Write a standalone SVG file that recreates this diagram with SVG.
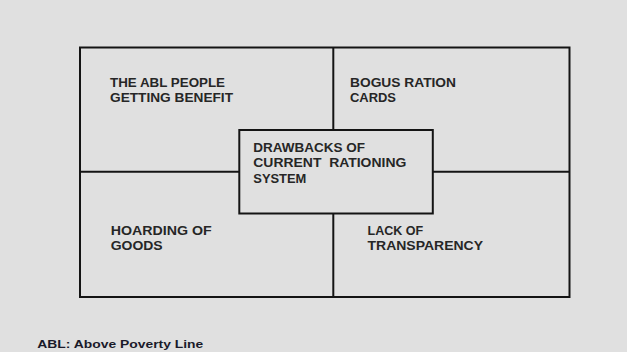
<svg xmlns="http://www.w3.org/2000/svg" width="627" height="352" viewBox="0 0 627 352">
<style>
.box{fill:none;stroke:#141414;stroke-width:2}
.cbox{fill:#e0e0e0;stroke:#141414;stroke-width:2}
.ln{stroke:#141414;stroke-width:2;fill:none}
.t{font-family:"Liberation Sans",Arial,sans-serif;font-weight:bold;font-size:12.5px;fill:#262626}
.f{font-family:"Liberation Sans",Arial,sans-serif;font-weight:bold;font-size:11px;fill:#1a1a2a}
</style>
<rect x="0" y="0" width="627" height="352" fill="#e0e0e0"/>
<g id="frame">
<rect class="box" x="80" y="47.5" width="489.5" height="249.5"/>
</g>
<g id="connectors">
<line class="ln" x1="333.3" y1="47.5" x2="333.3" y2="130"/>
<line class="ln" x1="333.3" y1="213.5" x2="333.3" y2="297"/>
<line class="ln" x1="80" y1="171.7" x2="239.3" y2="171.7"/>
<line class="ln" x1="432.8" y1="171.7" x2="569.5" y2="171.7"/>
</g>
<g id="node-abl">
<text class="t" x="110" y="86.7" textLength="115" lengthAdjust="spacingAndGlyphs">THE ABL PEOPLE</text>
<text class="t" x="110" y="101.7" textLength="123" lengthAdjust="spacingAndGlyphs">GETTING BENEFIT</text>
</g>
<g id="node-bogus">
<text class="t" x="350" y="86.7" textLength="106" lengthAdjust="spacingAndGlyphs">BOGUS RATION</text>
<text class="t" x="350" y="101.7" textLength="46" lengthAdjust="spacingAndGlyphs">CARDS</text>
</g>
<g id="node-center">
<rect class="cbox" x="239.3" y="130" width="193.5" height="83.5"/>
<text class="t" x="253.3" y="152.3" textLength="111.7" lengthAdjust="spacingAndGlyphs">DRAWBACKS OF</text>
<text class="t" x="253.3" y="167.3" xml:space="preserve" textLength="153" lengthAdjust="spacingAndGlyphs">CURRENT  RATIONING</text>
<text class="t" x="253.3" y="183.3" textLength="53" lengthAdjust="spacingAndGlyphs">SYSTEM</text>
</g>
<g id="node-hoarding">
<text class="t" x="110.7" y="235" textLength="101" lengthAdjust="spacingAndGlyphs">HOARDING OF</text>
<text class="t" x="110.7" y="250" textLength="52" lengthAdjust="spacingAndGlyphs">GOODS</text>
</g>
<g id="node-lack">
<text class="t" x="367.5" y="234.7" textLength="55.7" lengthAdjust="spacingAndGlyphs">LACK OF</text>
<text class="t" x="367.5" y="249.5" textLength="115.5" lengthAdjust="spacingAndGlyphs">TRANSPARENCY</text>
</g>
<g id="footnote">
<text class="f" x="37.3" y="348.3" textLength="166" lengthAdjust="spacingAndGlyphs">ABL: Above Poverty Line</text>
</g>
</svg>
